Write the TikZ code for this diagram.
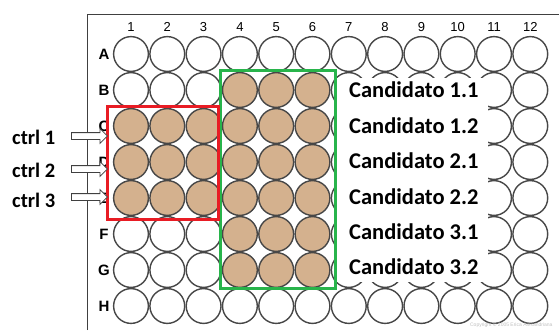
\documentclass[tikz,border=0pt]{standalone}
\usepackage{fontspec}
\setmainfont{Liberation Sans}
\newfontfamily\calibri{Carlito}
\usetikzlibrary{shapes.arrows}
\definecolor{welltan}{RGB}{212,177,142}
\definecolor{ctrlred}{RGB}{232,28,36}
\definecolor{candgreen}{RGB}{40,180,75}

\begin{document}
\begin{tikzpicture}[
  x=1pt,y=-1pt,
  well/.style={circle,draw=black!72,line width=1.4pt,minimum size=34.8pt,inner sep=0pt},
  colnum/.style={font=\fontsize{13}{13}\selectfont},
  rowlet/.style={font=\bfseries\fontsize{15}{15}\selectfont},
  cand/.style={font=\calibri\bfseries\fontsize{22.5}{22.5}\selectfont,anchor=west,inner sep=0pt},
  ctrl/.style={font=\calibri\bfseries\fontsize{20.5}{20.5}\selectfont,anchor=west,inner sep=0pt},
  hollow/.style={single arrow,draw=black!75,fill=white,line width=.8pt,minimum height=36pt,inner xsep=0pt,inner ysep=3pt,single arrow head extend=4pt,anchor=tail},
  box/.style={line width=3pt}
]
\useasboundingbox (0,0) rectangle (559,330);

% plate frame
\draw[black!75,line width=.9pt] (87,330) -- (87,14) -- (559,14);

% wells, rows A-H and columns 1-12
\foreach \r [count=\ri] in {A,B,C,D,E,F,G,H} {
  \node[rowlet] (row\r) at (104,{54+(\ri-1)*36}) {\r};
  \foreach \c in {1,...,12} {
    \pgfmathtruncatemacro\filled{(\ri>1)*(\ri<8)*(\c>3)*(\c<7)+(\ri>2)*(\ri<6)*(\c<4)}
    \ifnum\filled>0 \def\wfill{welltan}\else\def\wfill{white}\fi
    \node[well,fill=\wfill] (w\r\c) at ({131+(\c-1)*36.3},{54+(\ri-1)*36}) {};
  }
}
\foreach \c in {1,...,12}
  \node[colnum] (col\c) at ({131+(\c-1)*36.3},27) {\c};

% candidate labels on a white panel
\node[fill=white,minimum width=151pt,minimum height=204pt,inner sep=0pt] (candbox) at (412.5,180) {};
\foreach \t [count=\i] in {1.1,1.2,2.1,2.2,3.1,3.2}
  \node[cand] (cand\i) at (349,{90+(\i-1)*35.4}) {Candidato \t};

% groups
\draw[box,candgreen] (220,70) rectangle (335,288);
\draw[box,ctrlred] (107,106) rectangle (218,219);

% controls
\node[ctrl] (ctrl1) at (12,137) {ctrl 1};
\node[ctrl] (ctrl2) at (12,170) {ctrl 2};
\node[ctrl] (ctrl3) at (12,200) {ctrl 3};
\node[hollow] (arr1) at (71,136) {};
\node[hollow] (arr2) at (71,169) {};
\node[hollow] (arr3) at (71,197) {};

\node[font=\fontsize{5}{5}\selectfont,text=black!25,anchor=east] (copy) at (556,325) {Copyright © 2005 Erica Alexandriana};
\end{tikzpicture}
\end{document}
